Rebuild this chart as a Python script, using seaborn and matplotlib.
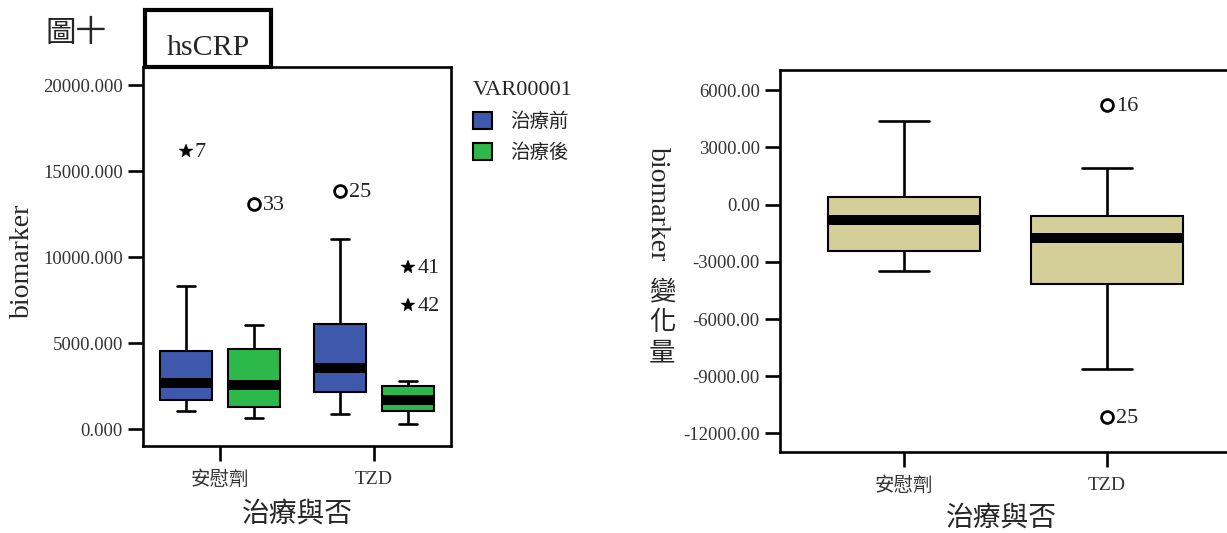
import numpy as np
import pandas as pd
import matplotlib
matplotlib.use("Agg")
import matplotlib.pyplot as plt
import seaborn as sns
from matplotlib.patches import Rectangle

# ---------------- data ----------------
groups = ["安慰劑", "TZD"]
phases = ["治療前", "治療後"]

# five-number summaries: lower whisker, Q1, median, Q3, upper whisker
placebo_before = [1030, 1690, 2700, 4530, 8330]
placebo_after = [620, 1300, 2580, 4650, 6050]
tzd_before = [850, 2150, 3540, 6090, 11030]
tzd_after = [270, 1070, 1710, 2500, 2790]

left_out_group = ["安慰劑", "安慰劑", "TZD", "TZD", "TZD"]
left_out_phase = ["治療前", "治療後", "治療前", "治療後", "治療後"]
left_out_value = [16180, 13070, 13860, 9400, 7200]
left_out_label = ["7", "33", "25", "41", "42"]
left_out_kind = ["extreme", "outlier", "outlier", "extreme", "extreme"]

change_placebo = [-3490, -2440, -830, 400, 4370]
change_tzd = [-8600, -4140, -1780, -610, 1890]

right_out_group = ["TZD", "TZD"]
right_out_value = [5210, -11130]
right_out_label = ["16", "25"]

left_yticks = [0, 5000, 10000, 15000, 20000]
right_yticks = [-12000, -9000, -6000, -3000, 0, 3000, 6000]

# ---------------- style ----------------
blue = "#3E58AB"
green = "#2DB84A"
tan = "#D4CF99"

sns.set_style("ticks")
plt.rcParams["font.family"] = ["Liberation Serif", "Noto Sans CJK TC"]
plt.rcParams["axes.linewidth"] = 1.9

W, H = 1227, 533
fig = plt.figure(figsize=(W / 100, H / 100), dpi=100)

def fx(px):
    return px / W

def fy(py):
    return 1 - py / H

ax1 = fig.add_axes([fx(143), fy(446), fx(451) - fx(143), fy(67) - fy(446)])
ax2 = fig.add_axes([fx(780), fy(452), fx(1231) - fx(780), fy(70) - fy(452)])

# ---------------- left panel ----------------
rows = []
for g, p, vals in [("安慰劑", "治療前", placebo_before), ("安慰劑", "治療後", placebo_after),
                   ("TZD", "治療前", tzd_before), ("TZD", "治療後", tzd_after)]:
    for v in vals:
        rows.append({"group": g, "phase": p, "value": v})
df_left = pd.DataFrame(rows)

common = dict(whis=(0, 100), showfliers=False, saturation=1, linecolor="black", linewidth=1.5,
              medianprops=dict(linewidth=7.2, solid_capstyle="butt", color="black"),
              whiskerprops=dict(linewidth=1.9), capprops=dict(linewidth=1.9))

sns.boxplot(data=df_left, x="group", y="value", hue="phase", order=groups, hue_order=phases,
            palette=[blue, green], width=0.89, gap=0.235, dodge=True, capwidths=0.117,
            ax=ax1, **common)

offset = {"治療前": -0.2225, "治療後": 0.2225}
for g, p, v, lab, kind in zip(left_out_group, left_out_phase, left_out_value, left_out_label, left_out_kind):
    x = groups.index(g) + offset[p]
    if kind == "outlier":
        ax1.plot([x], [v], marker="o", ms=8.5, mfc="white", mec="black", mew=2.0, ls="none")
    else:
        ax1.plot([x], [v], marker="*", ms=10, mfc="black", mec="black", mew=0.3, ls="none")
    ax1.annotate(lab, xy=(x, v), xytext=(6.5, -1.0), textcoords="offset points",
                 ha="left", va="center", fontsize=16, color="#222222")

ax1.set_xlim(-0.5, 1.5)
ax1.set_ylim(-988, 21047)
ax1.set_yticks(left_yticks)
ax1.set_yticklabels([f"{t:.3f}" for t in left_yticks])
ax1.set_xlabel("")
ax1.set_ylabel("")

leg = ax1.get_legend()
handles = leg.legend_handles
labels = [t.get_text() for t in leg.texts]
leg.remove()
ax1.legend(handles, labels, title="VAR00001", loc="upper left",
           bbox_to_anchor=(fx(473), fy(81)), bbox_transform=fig.transFigure,
           frameon=False, alignment="left", handlelength=1.0, handleheight=1.0,
           labelspacing=0.6, handletextpad=0.9, borderpad=0, borderaxespad=0,
           fontsize=14, title_fontsize=16)

# ---------------- right panel ----------------
df_right = pd.DataFrame({
    "group": ["安慰劑"] * len(change_placebo) + ["TZD"] * len(change_tzd),
    "change": change_placebo + change_tzd,
})
sns.boxplot(data=df_right, x="group", y="change", order=groups, color=tan, width=0.752,
            capwidths=0.25, ax=ax2, **common)

for g, v, lab in zip(right_out_group, right_out_value, right_out_label):
    x = groups.index(g)
    ax2.plot([x], [v], marker="o", ms=8.5, mfc="white", mec="black", mew=2.0, ls="none")
    ax2.annotate(lab, xy=(x, v), xytext=(6.5, -1.0), textcoords="offset points",
                 ha="left", va="center", fontsize=16, color="#222222")

ax2.set_xlim(-0.612, 1.612)
ax2.set_ylim(-12970, 7050)
ax2.set_yticks(right_yticks)
ax2.set_yticklabels([f"{t:.2f}" for t in right_yticks])
ax2.set_xlabel("")
ax2.set_ylabel("")

for ax in (ax1, ax2):
    for s in ax.spines.values():
        s.set_visible(True)
        s.set_color("black")
        s.set_linewidth(1.9)
    ax.tick_params(axis="both", direction="out", length=11, width=1.9, color="black",
                   labelcolor="#333333", labelsize=13.5)
    ax.tick_params(axis="y", pad=3.5)
    ax.tick_params(axis="x", pad=7, labelsize=14)

# ---------------- texts ----------------
fig.text(fx(46), fy(33), "圖十", fontsize=22, ha="left", va="center", family=["Noto Sans CJK TC"])
fig.add_artist(Rectangle((fx(145), fy(67)), fx(271) - fx(145), fy(10) - fy(67),
                         transform=fig.transFigure, fill=False, lw=3.0, ec="black", zorder=5))
fig.text(fx(208), fy(55), "hsCRP", fontsize=21.5, ha="center", va="baseline", zorder=6)

fig.text(fx(22), fy(261), "biomarker", rotation=90, fontsize=20, ha="center", va="center")
fig.text(fx(297), fy(515), "治療與否", fontsize=20, ha="center", va="center")

fig.text(fx(657), fy(204), "biomarker", rotation=-90, fontsize=20, ha="center", va="center")
for ch, yy in zip(["變", "化", "量"], [292, 323, 354]):
    fig.text(fx(662), fy(yy), ch, fontsize=19, ha="center", va="center")
fig.text(fx(1001), fy(519), "治療與否", fontsize=20, ha="center", va="center")

# fragment of cut-off text at the very top edge
fig.text(fx(1047), 1 + 6 / H, "g", fontsize=20, ha="center", va="baseline")

fig.savefig("out.png", dpi=100)
